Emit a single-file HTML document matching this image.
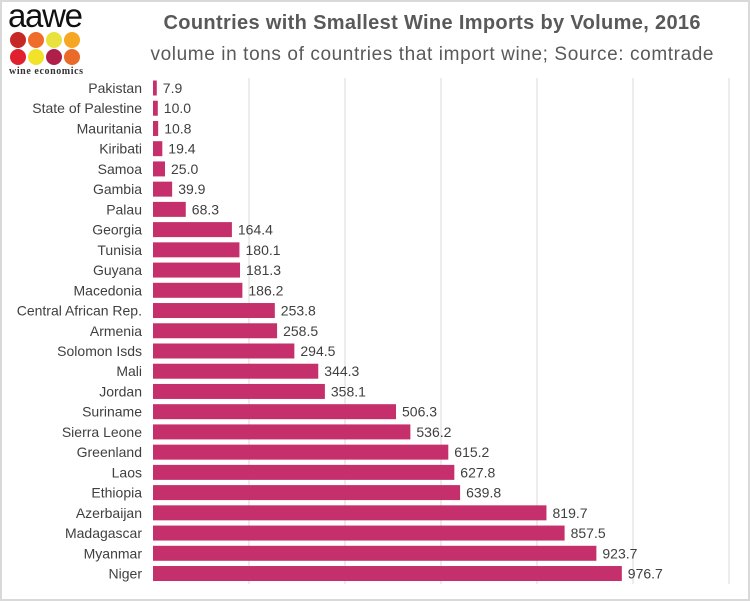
<!DOCTYPE html><html><head><style>
body{margin:0;background:#fff}
svg{display:block;font-family:"Liberation Sans",sans-serif}
</style></head><body>
<svg width="750" height="601" xmlns="http://www.w3.org/2000/svg">
<rect x="1" y="1" width="748" height="599" fill="#fff" stroke="#d9d9d9" stroke-width="2"/>
<text x="8" y="27" font-size="33" fill="#111" textLength="75">aawe</text>
<circle cx="18" cy="40" r="8" fill="#c62828"/><circle cx="36" cy="40" r="8" fill="#ef6c2a"/><circle cx="54" cy="40" r="8" fill="#e8e23c"/><circle cx="72" cy="40" r="8" fill="#f5a623"/>
<circle cx="18" cy="57" r="8" fill="#e0202e"/><circle cx="36" cy="57" r="8" fill="#f2e22a"/><circle cx="54" cy="57" r="8" fill="#b01e4a"/><circle cx="72" cy="57" r="8" fill="#ea6a2a"/>
<text x="9" y="74" font-size="10" font-family="Liberation Serif,serif" font-weight="bold" fill="#333" textLength="74">wine economics</text>
<text x="432" y="29" font-size="20" font-weight="bold" fill="#595959" text-anchor="middle" textLength="537">Countries with Smallest Wine Imports by Volume, 2016</text>
<text x="432" y="60" font-size="19" fill="#595959" text-anchor="middle" textLength="563">volume in tons of countries that import wine; Source: comtrade</text>
<g stroke="#d9d9d9" stroke-width="1">
<line x1="249" y1="78" x2="249" y2="584"/><line x1="345" y1="78" x2="345" y2="584"/><line x1="441" y1="78" x2="441" y2="584"/><line x1="537" y1="78" x2="537" y2="584"/><line x1="633" y1="78" x2="633" y2="584"/><line x1="729" y1="78" x2="729" y2="584"/>
</g>
<g fill="#c5306c">
<rect x="153" y="80.5" width="3.79" height="15"/>
<rect x="153" y="100.73" width="4.8" height="15"/>
<rect x="153" y="120.96" width="5.18" height="15"/>
<rect x="153" y="141.19" width="9.31" height="15"/>
<rect x="153" y="161.42" width="12" height="15"/>
<rect x="153" y="181.65" width="19.15" height="15"/>
<rect x="153" y="201.88" width="32.78" height="15"/>
<rect x="153" y="222.11" width="78.91" height="15"/>
<rect x="153" y="242.34" width="86.45" height="15"/>
<rect x="153" y="262.57" width="87.02" height="15"/>
<rect x="153" y="282.8" width="89.38" height="15"/>
<rect x="153" y="303.03" width="121.82" height="15"/>
<rect x="153" y="323.26" width="124.08" height="15"/>
<rect x="153" y="343.49" width="141.36" height="15"/>
<rect x="153" y="363.72" width="165.26" height="15"/>
<rect x="153" y="383.95" width="171.89" height="15"/>
<rect x="153" y="404.18" width="243.02" height="15"/>
<rect x="153" y="424.41" width="257.38" height="15"/>
<rect x="153" y="444.64" width="295.3" height="15"/>
<rect x="153" y="464.87" width="301.34" height="15"/>
<rect x="153" y="485.1" width="307.1" height="15"/>
<rect x="153" y="505.33" width="393.46" height="15"/>
<rect x="153" y="525.56" width="411.6" height="15"/>
<rect x="153" y="545.79" width="443.38" height="15"/>
<rect x="153" y="566.02" width="468.82" height="15"/>
</g>
<g font-size="14" fill="#404040" text-anchor="end">
<text x="142" y="93">Pakistan</text>
<text x="142" y="113.23">State of Palestine</text>
<text x="142" y="133.46">Mauritania</text>
<text x="142" y="153.69">Kiribati</text>
<text x="142" y="173.92">Samoa</text>
<text x="142" y="194.15">Gambia</text>
<text x="142" y="214.38">Palau</text>
<text x="142" y="234.61">Georgia</text>
<text x="142" y="254.84">Tunisia</text>
<text x="142" y="275.07">Guyana</text>
<text x="142" y="295.3">Macedonia</text>
<text x="142" y="315.53">Central African Rep.</text>
<text x="142" y="335.76">Armenia</text>
<text x="142" y="355.99">Solomon Isds</text>
<text x="142" y="376.22">Mali</text>
<text x="142" y="396.45">Jordan</text>
<text x="142" y="416.68">Suriname</text>
<text x="142" y="436.91">Sierra Leone</text>
<text x="142" y="457.14">Greenland</text>
<text x="142" y="477.37">Laos</text>
<text x="142" y="497.6">Ethiopia</text>
<text x="142" y="517.83">Azerbaijan</text>
<text x="142" y="538.06">Madagascar</text>
<text x="142" y="558.29">Myanmar</text>
<text x="142" y="578.52">Niger</text>
</g>
<g font-size="14" fill="#404040">
<text x="162.8" y="93">7.9</text>
<text x="163.8" y="113.23">10.0</text>
<text x="164.2" y="133.46">10.8</text>
<text x="168.3" y="153.69">19.4</text>
<text x="171" y="173.92">25.0</text>
<text x="178.2" y="194.15">39.9</text>
<text x="191.8" y="214.38">68.3</text>
<text x="237.9" y="234.61">164.4</text>
<text x="245.5" y="254.84">180.1</text>
<text x="246" y="275.07">181.3</text>
<text x="248.4" y="295.3">186.2</text>
<text x="280.8" y="315.53">253.8</text>
<text x="283.1" y="335.76">258.5</text>
<text x="300.4" y="355.99">294.5</text>
<text x="324.3" y="376.22">344.3</text>
<text x="330.9" y="396.45">358.1</text>
<text x="402" y="416.68">506.3</text>
<text x="416.4" y="436.91">536.2</text>
<text x="454.3" y="457.14">615.2</text>
<text x="460.3" y="477.37">627.8</text>
<text x="466.1" y="497.6">639.8</text>
<text x="552.5" y="517.83">819.7</text>
<text x="570.6" y="538.06">857.5</text>
<text x="602.4" y="558.29">923.7</text>
<text x="627.8" y="578.52">976.7</text>
</g>
</svg>
</body></html>
